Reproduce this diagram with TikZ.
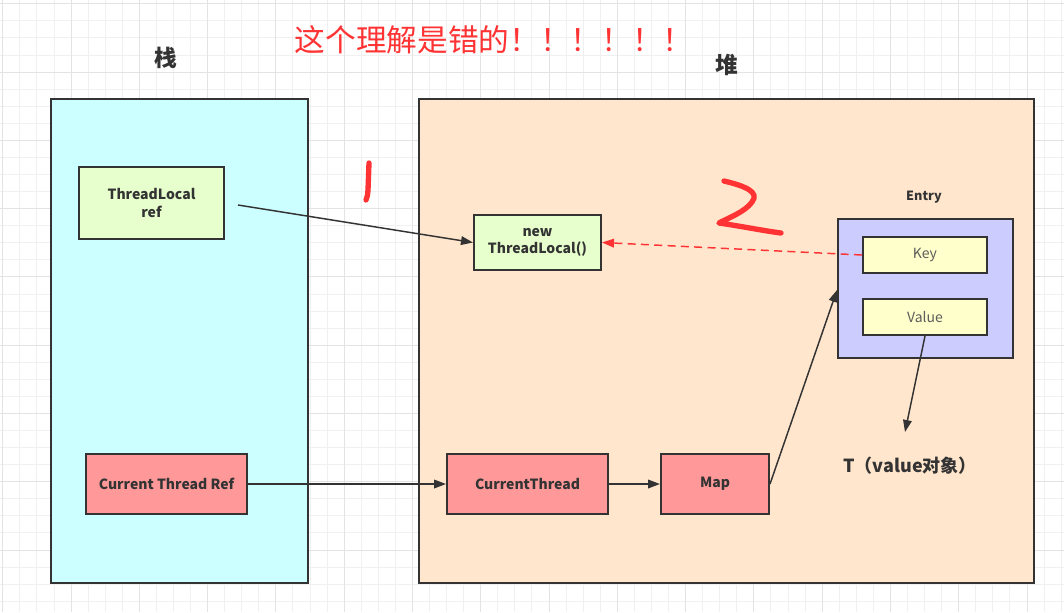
\documentclass[tikz,border=0pt]{standalone}
\usepackage{fontspec}
\setmainfont{Noto Sans CJK SC}
\usetikzlibrary{arrows.meta}
\definecolor{gridminor}{HTML}{F0F0F0}
\definecolor{gridmajor}{HTML}{E3E3E3}
\definecolor{stackfill}{HTML}{CCFFFF}
\definecolor{heapfill}{HTML}{FFE6CC}
\definecolor{greenfill}{HTML}{E6FFCC}
\definecolor{redfill}{HTML}{FF9999}
\definecolor{entryfill}{HTML}{CCCCFF}
\definecolor{yellowfill}{HTML}{FFFFCC}
\definecolor{border}{HTML}{333333}
\definecolor{warn}{HTML}{FF3333}
\tikzset{
  region/.style={draw=border, line width=1.5pt, anchor=north west, inner sep=0pt},
  box/.style={draw=border, line width=1.5pt, anchor=north west, inner sep=0pt, align=center, text=border, font=\fontsize{10.5}{13}\selectfont\bfseries},
  ybox/.style={draw=border, line width=1.5pt, anchor=north west, inner sep=0pt, fill=yellowfill, text=border!80, font=\fontsize{10.5}{13}\selectfont},
  conn/.style={draw=border, line width=1.1pt, -{Triangle[length=9pt,width=6.5pt]}},
  dconn/.style={draw=warn, line width=1.1pt, dash pattern=on 6pt off 4pt, -{Triangle[length=9pt,width=6.5pt]}},
  lbl/.style={text=border, font=\bfseries},
  hand/.style={draw=warn, line width=4pt, line cap=round, line join=round},
}
\begin{document}
\begin{tikzpicture}[x=0.75pt,y=-0.75pt]
\useasboundingbox (0,0) rectangle (1064,612);
\fill[white] (0,0) rectangle (1064,612);
% grid
\foreach \i in {0,...,62} {
  \pgfmathsetmacro{\gx}{2.8+17.07*\i}
  \draw[gridminor, line width=0.75pt] (\gx,0) -- (\gx,612);
}
\foreach \i in {0,...,35} {
  \pgfmathsetmacro{\gy}{3.8+17.07*\i}
  \draw[gridminor, line width=0.75pt] (0,\gy) -- (1064,\gy);
}
\foreach \i in {0,...,15} {
  \pgfmathsetmacro{\gx}{2.8+68.28*\i}
  \draw[gridmajor, line width=0.75pt] (\gx,0) -- (\gx,612);
}
\foreach \i in {0,...,8} {
  \pgfmathsetmacro{\gy}{3.8+68.28*\i}
  \draw[gridmajor, line width=0.75pt] (0,\gy) -- (1064,\gy);
}
% regions
\node[region, fill=stackfill, minimum width=192.75pt, minimum height=363pt] (stack) at (50,98) {};
\node[region, fill=heapfill, minimum width=461.25pt, minimum height=363pt] (heap) at (418,98) {};
\node[lbl, font=\fontsize{17}{20}\selectfont\bfseries] (stacklbl) at (166,58) {栈};
\node[lbl, font=\fontsize{17}{20}\selectfont\bfseries] (heaplbl) at (727,65) {堆};
\node[text=warn, font=\fontsize{23}{26}\selectfont] (title) at (494,40) {这个理解是错的！！！！！！};
% boxes
\node[box, fill=greenfill, minimum width=108.75pt, minimum height=54pt] (tlref) at (78,166) {ThreadLocal\\ref};
\node[box, fill=greenfill, minimum width=95.25pt, minimum height=41.25pt] (newtl) at (473,214) {new\\ThreadLocal()};
\node[box, fill=redfill, minimum width=120.75pt, minimum height=45pt] (ctref) at (85,453) {Current Thread Ref};
\node[box, fill=redfill, minimum width=120.75pt, minimum height=45pt] (ct) at (446,453) {CurrentThread};
\node[box, fill=redfill, minimum width=81pt, minimum height=45pt] (map) at (660,453) {Map};
\node[region, fill=entryfill, minimum width=131.25pt, minimum height=104.25pt] (entry) at (837,218) {};
\node[lbl, font=\fontsize{9.5}{12}\selectfont\bfseries] (entrylbl) at (924,197) {Entry};
\node[ybox, minimum width=93pt, minimum height=27pt] (key) at (862,236) {Key};
\node[ybox, minimum width=93pt, minimum height=27pt] (value) at (862,298) {Value};
\node[lbl, font=\fontsize{13.5}{16}\selectfont\bfseries] (tval) at (910,466) {T（value对象）};
% connectors
\coordinate (tlstart) at (238,205);
\coordinate (mapin) at (837,290);
\coordinate (tvalin) at (905,432);
\draw[conn] (tlstart) -- (newtl.west);
\draw[dconn] (key.west) -- (newtl.east);
\draw[conn] (ctref.east) -- (ct.west);
\draw[conn] (ct.east) -- (map.west);
\draw[conn] (map.east) -- (mapin);
\draw[conn] (value.south) -- (tvalin);
% handwritten marks
\draw[hand] (369,163) -- (368,190) .. controls (367.5,196) .. (366,200);
\draw[hand] (724,181) .. controls (745,186) and (760,192) .. (752,202) .. controls (745,212) and (728,218) .. (719,223) .. controls (740,226) and (765,231) .. (781,233);
\end{tikzpicture}
\end{document}
